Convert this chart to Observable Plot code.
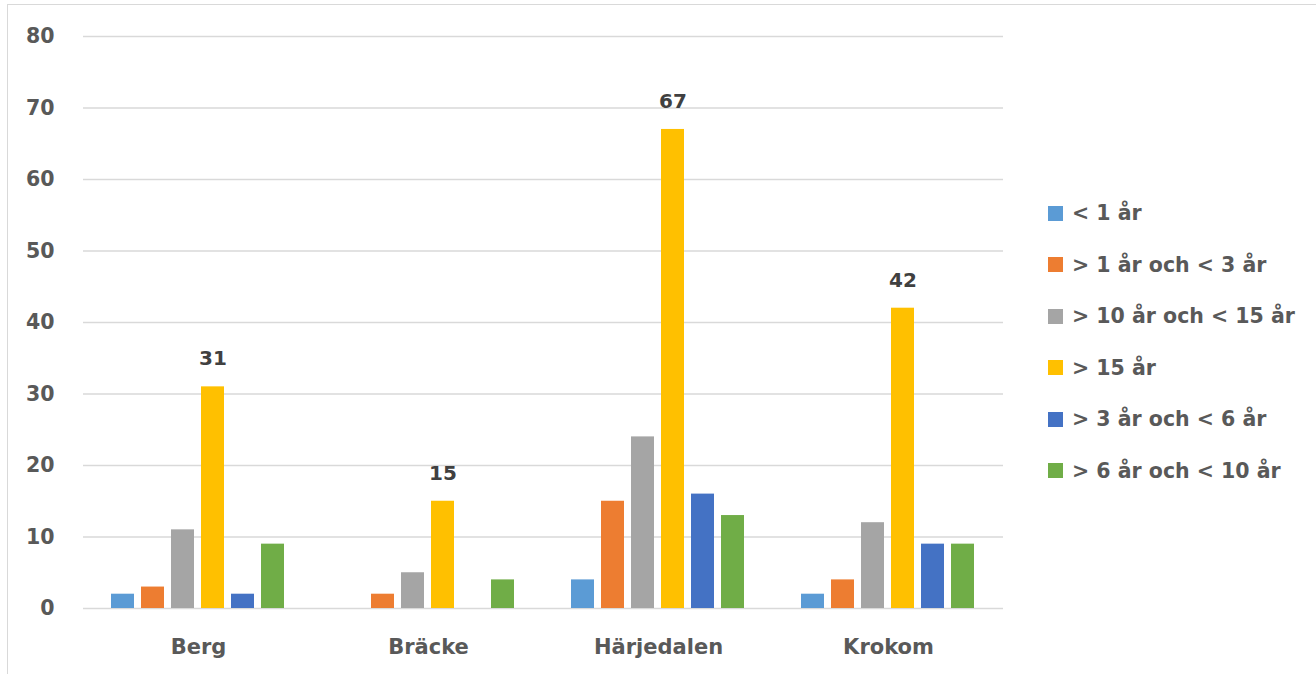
<!DOCTYPE html>
<html>
<head>
<meta charset="utf-8">
<script src="https://cdn.jsdelivr.net/npm/d3@7"></script>
<script src="https://cdn.jsdelivr.net/npm/@observablehq/plot@0.6"></script>
<style>
  html, body { margin: 0; padding: 0; background: #fff; }
  #wrap { position: relative; width: 1316px; height: 674px; overflow: hidden; font-family: "DejaVu Sans", sans-serif; }
  #frame { position: absolute; left: 7px; top: 4px; width: 1400px; height: 800px; border-left: 1px solid #d9d9d9; border-top: 1px solid #d9d9d9; }
  #chart { position: absolute; left: 0; top: 0; }
  #legend { position: absolute; left: 1048px; top: 202px; }
  #legend .item { display: flex; align-items: center; height: 22px; margin-bottom: 29.6px; }
  #legend .sw { width: 15px; height: 15px; margin-right: 9px; flex: none; }
  #legend span { font-size: 20.5px; line-height: 22px; font-weight: bold; color: #595959; white-space: nowrap; }
</style>
</head>
<body>
<div id="wrap">
  <div id="frame"></div>
  <div id="chart"></div>
  <div id="legend"></div>
</div>
<script>
const kommuner = ["Berg", "Bräcke", "Härjedalen", "Krokom"];
const serier = ["< 1 år", "> 1 år och < 3 år", "> 10 år och < 15 år", "> 15 år", "> 3 år och < 6 år", "> 6 år och < 10 år"];
const farger = ["#5B9BD5", "#ED7D31", "#A5A5A5", "#FFC000", "#4472C4", "#70AD47"];
const v_lt1 = [2, 0, 4, 2];
const v_1_3 = [3, 2, 15, 4];
const v_10_15 = [11, 5, 24, 12];
const v_gt15 = [31, 15, 67, 42];
const v_3_6 = [2, 0, 16, 9];
const v_6_10 = [9, 4, 13, 9];
const yTicks = [0, 10, 20, 30, 40, 50, 60, 70, 80];

const seriesValues = [v_lt1, v_1_3, v_10_15, v_gt15, v_3_6, v_6_10];
const data = [];
kommuner.forEach((k, i) => {
  serier.forEach((s, j) => {
    data.push({kommun: k, serie: s, value: seriesValues[j][i]});
  });
});
const labelled = data.filter(d => d.serie === "> 15 år");

const chart = Plot.plot({
  width: 1316,
  height: 674,
  marginLeft: 82,
  marginRight: 313,
  marginTop: 36,
  marginBottom: 66,
  style: {fontFamily: "'DejaVu Sans', sans-serif", background: "transparent"},
  fx: {domain: kommuner, padding: 0, axis: null, label: null},
  x: {domain: serier, axis: null, paddingInner: 0.226, paddingOuter: 0.823},
  y: {domain: [0, 80], ticks: yTicks, label: null, axis: null},
  color: {domain: serier, range: farger},
  marks: [
    Plot.gridY(yTicks, {stroke: "#d9d9d9", strokeOpacity: 1, strokeWidth: 1.5}),
    Plot.axisY({ticks: yTicks, tickSize: 0, tickPadding: 29, label: null, fontSize: 20.5, fontWeight: "bold", fill: "#595959"}),
    Plot.axisFx({anchor: "bottom", tickSize: 0, tickPadding: 31, label: null, fontSize: 21, fontWeight: "bold", fill: "#595959"}),
    Plot.barY(data, {fx: "kommun", x: "serie", y: "value", fill: "serie"}),
    Plot.text(labelled, {fx: "kommun", x: "serie", y: "value", text: d => String(d.value), dy: -28, fontSize: 20, fontWeight: "bold", fill: "#404040"})
  ]
});
document.getElementById("chart").appendChild(chart);

const legend = document.getElementById("legend");
serier.forEach((s, i) => {
  const it = document.createElement("div");
  it.className = "item";
  const sw = document.createElement("div");
  sw.className = "sw";
  sw.style.background = farger[i];
  const t = document.createElement("span");
  t.textContent = s;
  it.appendChild(sw); it.appendChild(t);
  legend.appendChild(it);
});
</script>
</body>
</html>
